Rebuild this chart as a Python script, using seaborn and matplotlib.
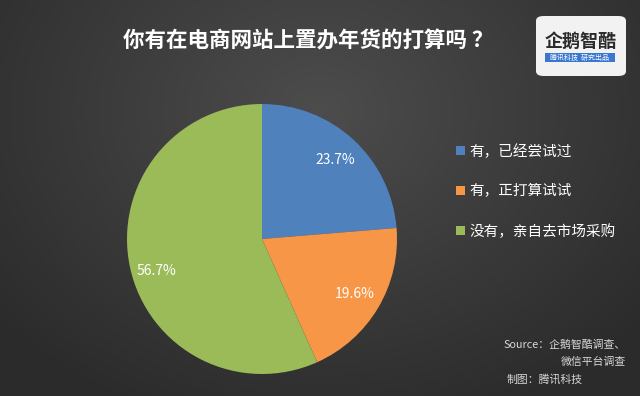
from matplotlib import pyplot as plt
from matplotlib.patches import FancyBboxPatch, Rectangle
import seaborn as sns
import numpy as np

# data
categories = ['有，已经尝试过', '有，正打算试试', '没有，亲自去市场采购']
shares = [23.7, 19.6, 56.7]
colors = ['#4f81bd', '#f79646', '#9bbb59']
title = '你有在电商网站上置办年货的打算吗 ？'

sns.set_theme(style='white')
plt.rcParams['font.family'] = ['Noto Sans CJK SC', 'DejaVu Sans']

fig = plt.figure(figsize=(6.4, 3.96), dpi=100)

# pozadie - radialny gradient
bg = fig.add_axes([0, 0, 1, 1], zorder=0)
yy, xx = np.mgrid[0:396, 0:640]
d = np.sqrt(((xx - 320) / 420) ** 2 + ((yy - 110) / 330) ** 2)
shade = np.clip(0.30 - 0.13 * d, 0.17, 0.30)
bg.imshow(np.dstack([shade] * 3), aspect='auto', extent=[0, 1, 0, 1])
bg.axis('off')

# kolacovy graf
ax = fig.add_axes([127 / 640, 22 / 396, 270 / 640, 270 / 396], zorder=1)
wedges, texts, autotexts = ax.pie(
    shares, colors=colors, startangle=90, counterclock=False,
    autopct='%.1f%%', pctdistance=0.8,
    wedgeprops={'linewidth': 0},
    textprops={'color': 'white', 'fontsize': 10})
# posun popisku zelenej casti trochu nizsie ako v predlohe
autotexts[2].set_y(autotexts[2].get_position()[1] - 0.07)
ax.set_xlim(-1, 1)
ax.set_ylim(-1, 1)
ax.set_aspect('equal')
ax.axis('off')

fig.text(0.482, 0.897, title, ha='center', va='center', color='white',
         fontsize=15.5, fontweight='bold')

leg = fig.legend(wedges, categories, loc='upper left',
                 bbox_to_anchor=(443 / 640, 1 - 131 / 396), frameon=False,
                 fontsize=10.5, labelcolor='white', handlelength=0.6,
                 handleheight=0.6, handletextpad=0.3, labelspacing=1.75)

# zdroj
fig.text(626 / 640, 1 - 345 / 396, 'Source：企鹅智酷调查、', ha='right', va='center',
         color='#d8d8d8', fontsize=7.8, style='italic')
fig.text(626 / 640, 1 - 362 / 396, '微信平台调查', ha='right', va='center',
         color='#d8d8d8', fontsize=7.8, style='italic')
fig.text(507 / 640, 1 - 380 / 396, '制图：腾讯科技', ha='left', va='center',
         color='#d8d8d8', fontsize=7.8, style='italic')

# logo
logo = FancyBboxPatch((536 / 640, 1 - 76 / 396), 90 / 640, 60 / 396,
                      boxstyle='round,pad=0,rounding_size=0.012',
                      transform=fig.transFigure, facecolor='#f2f2f2',
                      edgecolor='none', zorder=2)
fig.patches.append(logo)
fig.text(581 / 640, 1 - 41 / 396, '企鹅智酷', ha='center', va='center',
         color='#2b2b2b', fontsize=13, fontweight='bold', zorder=3)
fig.patches.append(Rectangle((545 / 640, 1 - 62 / 396), 70 / 640, 9 / 396,
                             transform=fig.transFigure, facecolor='#3a78d0',
                             edgecolor='none', zorder=3))
fig.text(580 / 640, 1 - 57.5 / 396, '腾讯科技  研究出品', ha='center', va='center',
         color='white', fontsize=5, zorder=4)

fig.savefig('out.png', dpi=100)
